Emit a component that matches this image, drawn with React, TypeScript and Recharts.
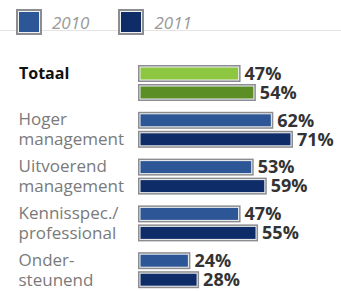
import { Bar, BarChart, Cell, LabelList, XAxis, YAxis } from "recharts";

const categories = ["Totaal", "Hoger management", "Uitvoerend management", "Kennisspec./ professional", "Onder- steunend"];
const labelLines = [["Totaal"], ["Hoger", "management"], ["Uitvoerend", "management"], ["Kennisspec./", "professional"], ["Onder-", "steunend"]];
const values2010 = [47, 62, 53, 47, 24];
const values2011 = [54, 71, 59, 55, 28];
const seriesNames = ["2010", "2011"];

const FONT = "'Open Sans', sans-serif";
const BLUE_2010 = "#2d5697";
const BLUE_2011 = "#0e2d68";
const GREEN_2010 = "#8dc641";
const GREEN_2011 = "#5b8e24";

const data = categories.map((name, i) => ({
  name,
  v2010: values2010[i],
  v2011: values2011[i],
}));

// bar with the grey frame + thin light inner line, like the original print
function FramedBar(props: any) {
  const { x, y, width, height, fill } = props;
  if (!width || width <= 0) return null;
  return (
    <g>
      <rect x={x} y={y} width={width} height={height} fill="#8b8d90" />
      <rect x={x + 1.5} y={y + 1.5} width={width - 3} height={height - 3} fill="#eef0f2" />
      <rect x={x + 2.5} y={y + 2.5} width={width - 5} height={height - 5} fill={fill} />
    </g>
  );
}

function CategoryTick(props: any) {
  const { y, payload } = props;
  const idx = categories.indexOf(payload.value);
  const lines = labelLines[idx] ?? [payload.value];
  if (idx === 0) {
    return (
      <text x={19} y={y - 4} fontFamily={FONT} fontSize={16} fontWeight={700} fill="#111">
        {lines[0]}
      </text>
    );
  }
  return (
    <text x={18.5} y={y - 5} fontFamily={FONT} fontSize={17} fill="#7a7a7a">
      {lines.map((line, i) => (
        <tspan key={i} x={18.5} dy={i === 0 ? 0 : 20}>
          {line}
        </tspan>
      ))}
    </text>
  );
}

function LegendBox({ color, label }: { color: string; label: string }) {
  return (
    <div style={{ display: "flex", alignItems: "center", marginRight: 29 }}>
      <div
        style={{
          width: 22,
          height: 22,
          background: color,
          border: "2px solid #8b8d90",
          boxShadow: "inset 0 0 0 1px #eef0f2",
        }}
      />
      <span style={{ marginLeft: 10, fontSize: 17, fontStyle: "italic", color: "#999", fontFamily: FONT }}>{label}</span>
    </div>
  );
}

export default function App() {
  const labelStyle = { fontFamily: FONT, fontSize: 18, fontWeight: 700, fill: "#333" };
  return (
    <div
      style={{
        position: "absolute",
        left: 0,
        top: 0,
        width: 341,
        height: 291,
        overflow: "hidden",
        background: "#fff",
        fontFamily: FONT,
      }}
    >
      <div style={{ position: "absolute", left: 0, top: 30, width: 341, borderTop: "1px solid #e4e4e4" }} />
      <div style={{ position: "absolute", left: 16, top: 9, display: "flex" }}>
        <LegendBox color={BLUE_2010} label={seriesNames[0]} />
        <LegendBox color={BLUE_2011} label={seriesNames[1]} />
      </div>
      <BarChart
        width={341}
        height={295}
        data={data}
        layout="vertical"
        margin={{ top: 60, right: 0, bottom: 1, left: 0 }}
        barSize={17}
        barGap={2}
        style={{ position: "absolute", left: 0, top: 0 }}
      >
        <XAxis type="number" domain={[0, 93]} hide />
        <YAxis
          type="category"
          dataKey="name"
          width={138}
          axisLine={false}
          tickLine={false}
          tick={<CategoryTick />}
          interval={0}
        />
        <Bar dataKey="v2010" name={seriesNames[0]} fill={BLUE_2010} shape={<FramedBar />} isAnimationActive={false}>
          {data.map((_, i) => (
            <Cell key={i} fill={i === 0 ? GREEN_2010 : BLUE_2010} />
          ))}
          <LabelList dataKey="v2010" position="right" offset={4} formatter={(v: any) => `${v}%`} style={labelStyle} />
        </Bar>
        <Bar dataKey="v2011" name={seriesNames[1]} fill={BLUE_2011} shape={<FramedBar />} isAnimationActive={false}>
          {data.map((_, i) => (
            <Cell key={i} fill={i === 0 ? GREEN_2011 : BLUE_2011} />
          ))}
          <LabelList dataKey="v2011" position="right" offset={4} formatter={(v: any) => `${v}%`} style={labelStyle} />
        </Bar>
      </BarChart>
    </div>
  );
}
